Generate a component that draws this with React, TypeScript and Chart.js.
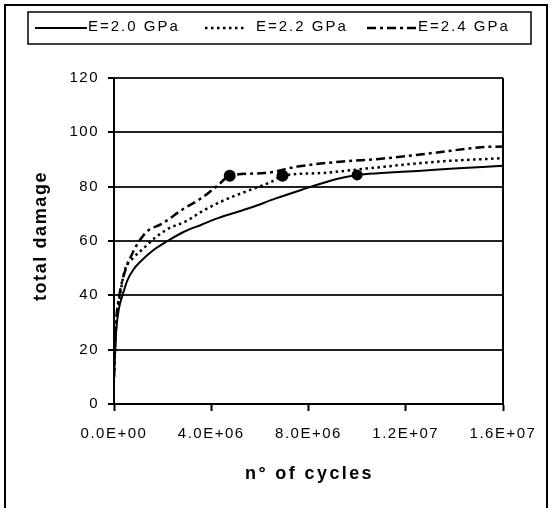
import React, { useEffect, useRef } from "react";
import { Chart, registerables } from "chart.js";

Chart.register(...registerables);

// ---- data ----
const cyclesE20 = [0, 0.05e6, 0.1e6, 0.2e6, 0.35e6, 0.55e6, 0.8e6, 1.1e6, 1.6e6, 2.2e6, 2.9e6, 3.6e6, 4.3e6, 5.0e6, 5.7e6, 6.6e6, 7.7e6, 8.9e6, 10.0e6, 11.0e6, 12.5e6, 14.0e6, 16.0e6];
const damageE20 = [10, 20, 28, 35, 40, 45.5, 49.5, 52.5, 56.5, 60, 63.5, 66, 68.5, 70.5, 72.5, 75.5, 78.8, 82.2, 84.3, 85, 85.8, 86.7, 87.7];

const cyclesE22 = [0, 0.05e6, 0.1e6, 0.2e6, 0.3e6, 0.48e6, 0.76e6, 1.3e6, 1.7e6, 2.27e6, 2.95e6, 3.6e6, 4.4e6, 5.6e6, 6.45e6, 6.93e6, 8.5e6, 10.4e6, 13.3e6, 16.0e6];
const damageE22 = [10, 22, 30, 37, 43, 50.3, 53.5, 58, 61.3, 64.7, 67.2, 70.8, 74.5, 78.8, 81.7, 84, 85, 86.7, 89.2, 90.5];

const cyclesE24 = [0, 0.05e6, 0.1e6, 0.2e6, 0.35e6, 0.76e6, 1.3e6, 2.0e6, 2.8e6, 3.6e6, 4.3e6, 4.76e6, 6.2e6, 7.55e6, 9.3e6, 11.0e6, 13.3e6, 15.1e6, 16.0e6];
const damageE24 = [10, 24, 32, 39, 45.7, 55.5, 63, 66.5, 71.5, 75.8, 80.7, 84, 85, 87.4, 89.2, 90.3, 92.6, 94.5, 94.8];

const markerCycles = [4.76e6, 6.93e6, 10.0e6];
const markerDamage = [84, 84, 84.3];

const seriesLabels = ["E=2.0 GPa", "E=2.2 GPa", "E=2.4 GPa"];
const xTickValues = [0, 4e6, 8e6, 1.2e7, 1.6e7];
const yTickValues = [0, 20, 40, 60, 80, 100, 120];
const xTitle = "n° of cycles";
const yTitle = "total damage";

const FONT = '"Liberation Sans", Arial, sans-serif';

const toPts = (xs: number[], ys: number[]) => xs.map((x, i) => ({ x, y: ys[i] }));

const fmtSci = (v: number) => {
  if (v === 0) return "0.0E+00";
  const e = Math.floor(Math.log10(Math.abs(v)) + 1e-9);
  const m = v / Math.pow(10, e);
  return m.toFixed(1) + "E" + (e >= 0 ? "+" : "-") + String(Math.abs(e)).padStart(2, "0");
};

const framePlugin = {
  id: "frame",
  beforeDraw(chart: any) {
    const ctx = chart.ctx;
    ctx.save();
    ctx.fillStyle = "#ffffff";
    ctx.fillRect(0, 0, chart.width, chart.height);
    ctx.strokeStyle = "#000";
    ctx.lineWidth = 2;
    ctx.strokeRect(5, 5, 542, 520);
    ctx.restore();
    // letter spacing for the tick labels (persisting through the draw)
    (ctx as any).letterSpacing = "1.5px";
  },
  beforeDatasetsDraw(chart: any) {
    const ctx = chart.ctx;
    const a = chart.chartArea;
    ctx.save();
    ctx.strokeStyle = "#000";
    ctx.lineWidth = 2;
    ctx.beginPath();
    ctx.moveTo(a.right, a.top);
    ctx.lineTo(a.right, a.bottom);
    ctx.stroke();
    ctx.restore();
  },
  afterDraw(chart: any) {
    const ctx = chart.ctx;
    const a = chart.chartArea;
    ctx.save();
    ctx.fillStyle = "#000";
    // axis titles
    ctx.font = `bold 18px ${FONT}`;
    (ctx as any).letterSpacing = "2.4px";
    ctx.textAlign = "center";
    ctx.textBaseline = "middle";
    ctx.fillText(xTitle, (a.left + a.right) / 2 + 1, 474);
    (ctx as any).letterSpacing = "1.6px";
    ctx.save();
    ctx.translate(41, 236);
    ctx.rotate(-Math.PI / 2);
    ctx.fillText(yTitle, 0, 0);
    ctx.restore();

    // legend
    ctx.strokeStyle = "#000";
    ctx.lineWidth = 1.5;
    ctx.strokeRect(28, 12, 503, 32);
    const samples = [
      [35, 87, 88],
      [205, 247, 256],
      [367, 417, 418],
    ];
    ctx.font = `15px ${FONT}`;
    (ctx as any).letterSpacing = "2px";
    ctx.textAlign = "left";
    for (let i = 0; i < 3; i++) {
      const ds = chart.data.datasets[i];
      const [x0, x1, tx] = samples[i];
      ctx.save();
      ctx.strokeStyle = "#000";
      ctx.lineWidth = ds.borderWidth;
      ctx.setLineDash(ds.borderDash || []);
      ctx.beginPath();
      ctx.moveTo(x0, 28);
      ctx.lineTo(x1, 28);
      ctx.stroke();
      ctx.restore();
      ctx.fillText(ds.label, tx, 27);
    }
    ctx.restore();
    (ctx as any).letterSpacing = "0px";
  },
};

export default function App() {
  const ref = useRef<HTMLCanvasElement | null>(null);
  useEffect(() => {
    if (!ref.current) return;
    const chart = new Chart(ref.current, {
      type: "line",
      data: {
        datasets: [
          {
            label: seriesLabels[0],
            data: toPts(cyclesE20, damageE20),
            borderColor: "#000",
            borderWidth: 2,
            borderDash: [],
            pointRadius: 0,
            cubicInterpolationMode: "monotone",
          },
          {
            label: seriesLabels[1],
            data: toPts(cyclesE22, damageE22),
            borderColor: "#000",
            borderWidth: 2.5,
            borderDash: [2.5, 3.5],
            pointRadius: 0,
            cubicInterpolationMode: "monotone",
          },
          {
            label: seriesLabels[2],
            data: toPts(cyclesE24, damageE24),
            borderColor: "#000",
            borderWidth: 2.5,
            borderDash: [9, 4, 3, 4],
            pointRadius: 0,
            cubicInterpolationMode: "monotone",
          },
          {
            label: "failure",
            data: toPts(markerCycles, markerDamage),
            showLine: false,
            borderColor: "#000",
            backgroundColor: "#000",
            pointRadius: [6, 6, 5.5],
            pointBorderWidth: 0,
          } as any,
        ],
      },
      options: {
        animation: false,
        responsive: false,
        devicePixelRatio: 1,
        layout: { padding: { top: 78, right: 47, left: 0, bottom: 0 } },
        plugins: { legend: { display: false }, tooltip: { enabled: false }, title: { display: false } },
        scales: {
          x: {
            type: "linear",
            min: 0,
            max: 1.6e7,
            afterFit: (s: any) => {
              s.height = 104;
            },
            afterBuildTicks: (s: any) => {
              s.ticks = xTickValues.map((v) => ({ value: v }));
            },
            ticks: {
              callback: (v: any) => fmtSci(Number(v)),
              color: "#000",
              font: { family: FONT, size: 15 },
              padding: 14,
              maxRotation: 0,
              autoSkip: false,
            },
            grid: {
              drawOnChartArea: false,
              drawTicks: true,
              tickLength: 7,
              tickColor: "#000",
              tickWidth: 2,
            },
            border: { display: true, color: "#000", width: 2 },
          },
          y: {
            type: "linear",
            min: 0,
            max: 120,
            afterFit: (s: any) => {
              s.width = 114;
            },
            afterBuildTicks: (s: any) => {
              s.ticks = yTickValues.map((v) => ({ value: v }));
            },
            ticks: {
              color: "#000",
              font: { family: FONT, size: 15 },
              padding: 9,
            },
            grid: {
              color: "#222",
              lineWidth: 2,
              drawTicks: true,
              tickLength: 6,
              tickColor: "#000",
            },
            border: { display: true, color: "#000", width: 2 },
          },
        },
      },
      plugins: [framePlugin],
    } as any);
    return () => chart.destroy();
  }, []);
  return (
    <div style={{ position: "absolute", left: 0, top: 0, width: 550, height: 508, background: "#fff" }}>
      <canvas ref={ref} width={550} height={508} style={{ display: "block", width: 550, height: 508 }} />
    </div>
  );
}
